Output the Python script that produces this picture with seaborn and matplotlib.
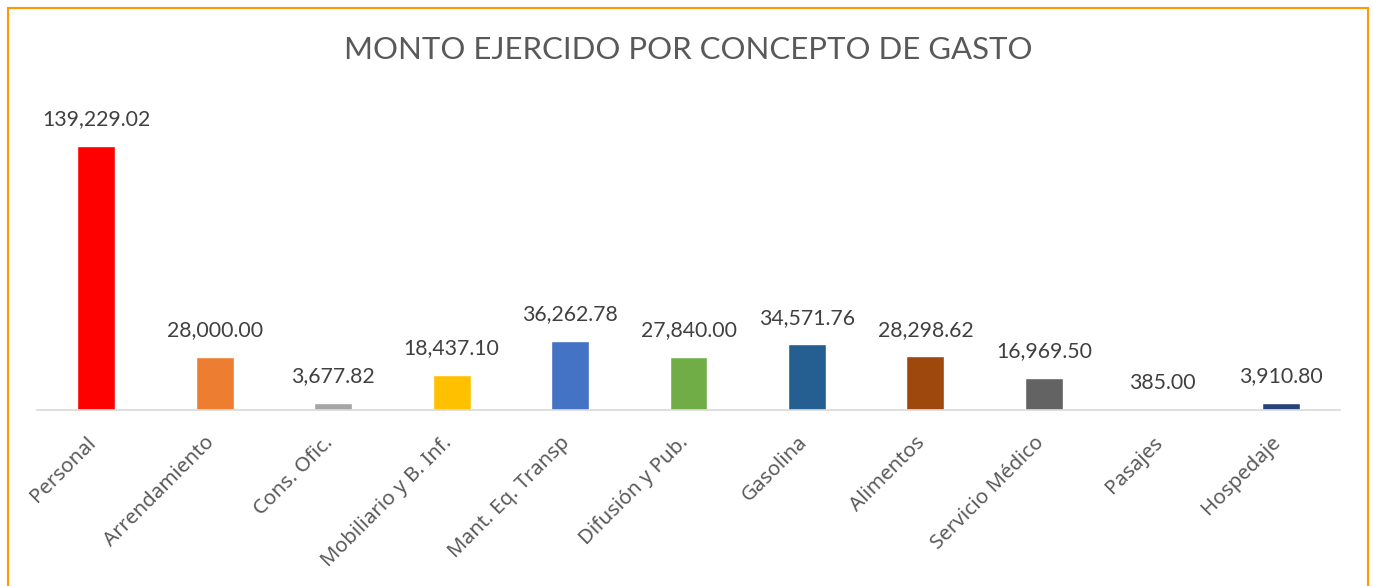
import matplotlib
matplotlib.use("Agg")
import matplotlib.pyplot as plt
import matplotlib.transforms as mtransforms
import seaborn as sns
import pandas as pd
from matplotlib.patches import Rectangle

# datos del gráfico
conceptos = ['Personal', 'Arrendamiento', 'Cons. Ofic.', 'Mobiliario y B. Inf.',
             'Mant. Eq. Transp', 'Difusión y Pub.', 'Gasolina', 'Alimentos',
             'Servicio Médico', 'Pasajes', 'Hospedaje']
montos = [139229.02, 28000.00, 3677.82, 18437.10, 36262.78, 27840.00,
          34571.76, 28298.62, 16969.50, 385.00, 3910.80]
colores = ['#FF0000', '#ED7D31', '#A5A5A5', '#FFC000', '#4472C4', '#70AD47',
           '#255E91', '#9E480E', '#636363', '#997300', '#264478']

df = pd.DataFrame({'concepto': conceptos, 'monto': montos})

sns.set_style('white')
plt.rcParams['font.family'] = ['Lato', 'DejaVu Sans']

fig = plt.figure(figsize=(13.73, 5.86), dpi=100)
ax = fig.add_axes([37/1373, 1-410/586, (1340-37)/1373, 310/586])

sns.barplot(data=df, x='concepto', y='monto', hue='concepto', palette=colores,
            legend=False, width=0.32, ax=ax, saturation=1)

ax.set_ylim(0, 310*527.4)
ax.set_xlim(-0.5, len(conceptos)-0.5)

# etiquetas de datos
for i, v in enumerate(montos):
    ax.annotate(f'{v:,.2f}', (i, v), xytext=(0, 12), textcoords='offset points',
                ha='center', va='bottom', fontsize=15.3, color='#404040')

for s in ['top', 'right', 'left']:
    ax.spines[s].set_visible(False)
ax.spines['bottom'].set_color('#D9D9D9')
ax.spines['bottom'].set_linewidth(1.2)
ax.set_yticks([])
ax.set_xlabel('')
ax.set_ylabel('')
ax.tick_params(axis='x', length=0, pad=12, labelcolor='#595959')
desplaza = mtransforms.ScaledTranslation(-10/100, -6/100, fig.dpi_scale_trans)
for lbl in ax.get_xticklabels():
    lbl.set_fontfamily(['Noto Sans', 'DejaVu Sans'])
    lbl.set_fontsize(14.8)
    lbl.set_rotation(45)
    lbl.set_ha('right')
    lbl.set_rotation_mode('anchor')
    lbl.set_transform(lbl.get_transform() + desplaza)

fig.text(688/1373, 1-50/586, 'MONTO EJERCIDO POR CONCEPTO DE GASTO',
         ha='center', va='center', fontsize=22.4, color='#595959')

# borde naranja
fig.patches.append(Rectangle((8/1373, -0.05), (1368-8)/1373, 1-8/586+0.05,
                             transform=fig.transFigure, fill=False,
                             edgecolor='#FF9900', linewidth=1.5))

fig.savefig('out.png', dpi=100)
